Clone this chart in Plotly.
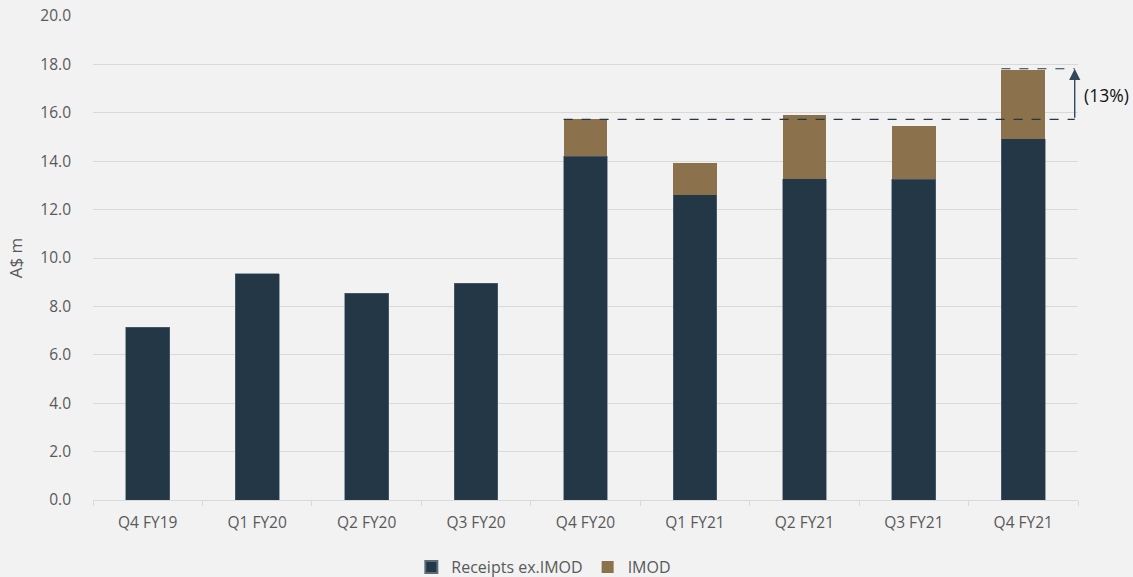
import plotly.graph_objects as go

categories = ["Q4 FY19", "Q1 FY20", "Q2 FY20", "Q3 FY20", "Q4 FY20",
              "Q1 FY21", "Q2 FY21", "Q3 FY21", "Q4 FY21"]
receipts_ex_imod = [7.13, 9.35, 8.54, 8.95, 14.21, 12.62, 13.28, 13.25, 14.92]
imod = [0, 0, 0, 0, 1.52, 1.31, 2.63, 2.20, 2.85]
y_ticks = [0, 2, 4, 6, 8, 10, 12, 14, 16, 18, 20]
change_label = "(13%)"

totals = [a + b for a, b in zip(receipts_ex_imod, imod)]
base_total = totals[4]
end_total = totals[8]

FONT = "Open Sans"
fig = go.Figure()
fig.add_trace(go.Bar(x=categories, y=receipts_ex_imod, name="Receipts ex.IMOD",
                     marker=dict(color="#243746", line=dict(color="#5a6b7a", width=0.6))))
fig.add_trace(go.Bar(x=categories, y=imod, name="IMOD",
                     marker=dict(color="#8b714c", line=dict(width=0))))

arrow_x = 8.47
# dashed reference lines
fig.add_shape(type="line", xref="x", yref="y", x0=3.8, x1=arrow_x, y0=base_total, y1=base_total,
              line=dict(color="#243746", width=1.2, dash="dash"))
fig.add_shape(type="line", xref="x", yref="y", x0=7.8, x1=arrow_x, y0=end_total + 0.05, y1=end_total + 0.05,
              line=dict(color="#243746", width=1.2, dash="dash"))
# arrow
fig.add_annotation(x=arrow_x, y=end_total + 0.05, ax=arrow_x, ay=base_total,
                   xref="x", yref="y", axref="x", ayref="y", text="",
                   showarrow=True, arrowhead=2, arrowsize=1.6, arrowwidth=1.4,
                   arrowcolor="#34475a")
fig.add_annotation(x=arrow_x, y=(base_total + end_total) / 2, xref="x", yref="y",
                   text=change_label, showarrow=False, xanchor="left", xshift=7,
                   font=dict(family=FONT, size=17.5, color="#111111"))

fig.update_layout(
    barmode="stack",
    bargap=0.6,
    width=1133, height=577,
    margin=dict(l=93, r=55, t=16, b=77, autoexpand=False),
    paper_bgcolor="#f2f2f2", plot_bgcolor="#f2f2f2",
    font=dict(family=FONT, size=14, color="#595959"),
    showlegend=True,
    legend=dict(orientation="h", x=0.48, xanchor="center", xref="container",
                y=10 / 577, yanchor="middle", yref="container",
                font=dict(family=FONT, size=16, color="#595959"),
                itemsizing="constant", traceorder="normal"),
    xaxis=dict(type="category", range=[-0.5, 8.5], autorange=False, showgrid=False,
               showline=True, linecolor="#d9d9d9",
               linewidth=1, ticks="outside", tickson="boundaries", ticklen=5,
               tickcolor="#d9d9d9", ticklabelstandoff=8,
               tickfont=dict(family=FONT, size=15.5, color="#595959")),
    yaxis=dict(range=[0, 20], tickvals=y_ticks, tickformat=".1f", showgrid=True,
               gridcolor="#d9d9d9", gridwidth=1, zeroline=False,
               title=dict(text="A$ m", font=dict(family=FONT, size=17, color="#595959"), standoff=13),
               ticks="", ticklabelstandoff=21,
               tickfont=dict(family=FONT, size=15.5, color="#595959")),
)

fig.write_html("out.html", config={"displayModeBar": False},
               post_script="document.body.style.margin='0';")
